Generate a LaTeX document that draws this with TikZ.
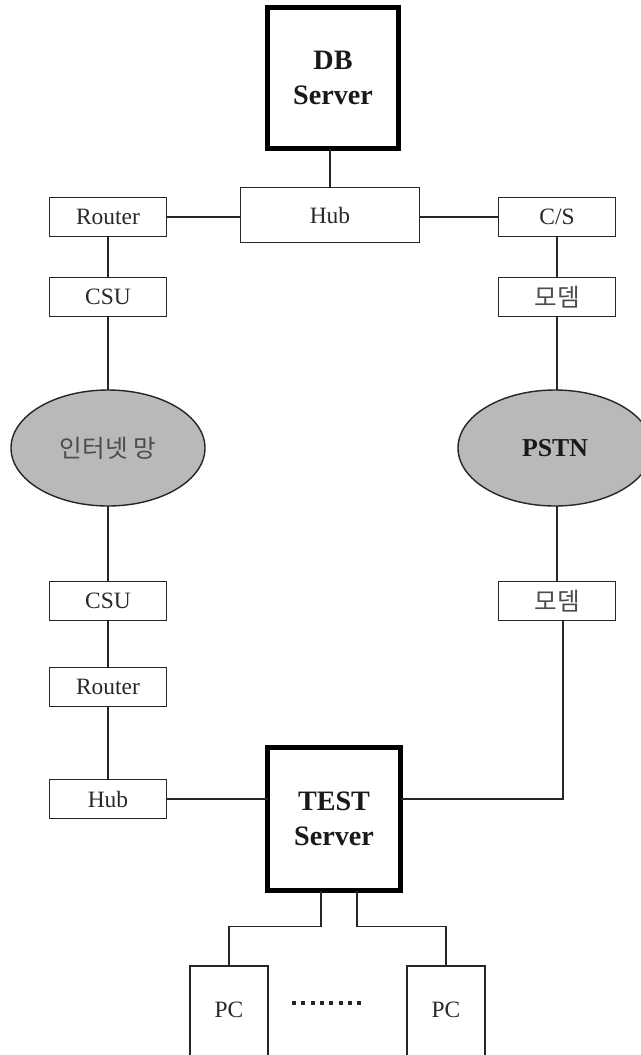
\documentclass[tikz,border=0pt]{standalone}
\usepackage{fontspec}
\setmainfont{Liberation Serif}
\newfontfamily\kr{Noto Sans CJK KR}
\usetikzlibrary{shapes.geometric,calc}
\definecolor{ellgray}{RGB}{185,185,185}
\definecolor{txt}{RGB}{40,40,40}
\begin{document}
\begin{tikzpicture}[x=0.03cm,y=-0.03cm,
  box/.style={draw=black!85, line width=1.2pt, fill=white, inner sep=0pt, outer sep=0pt,
    font=\fontsize{20}{22}\selectfont, text=txt},
  small/.style={box, minimum width=117*0.03cm, minimum height=39*0.03cm},
  server/.style={draw=black, line width=3.6pt, fill=white, inner sep=0pt, outer sep=0pt,
    minimum width=131*0.03cm, minimum height=141*0.03cm, align=center,
    font=\fontsize{24}{30}\selectfont\bfseries, text=black!90},
  cloud/.style={ellipse, draw=black!85, line width=1.2pt, fill=ellgray, inner sep=0pt, outer sep=0pt,
    minimum width=194*0.03cm, minimum height=116*0.03cm},
  pcbox/.style={box, minimum width=78*0.03cm, minimum height=100*0.03cm},
  krtext/.style={font=\kr\fontsize{21}{23}\selectfont, text=black!70},
  wire/.style={draw=black!85, line width=1.2pt}
]
\useasboundingbox (0,0) rectangle (641,1055);
\clip (0,0) rectangle (641,1055);
% top
\node[server] (db) at (333,78) {DB\\Server};
\node[box, minimum width=179*0.03cm, minimum height=55*0.03cm] (hub1) at (330,215) {Hub};
\node[small] (r1) at (108,217) {Router};
\node[small] (cs) at (557,217) {C/S};
\node[small] (csu1) at (108,297) {CSU};
\node[small, krtext] (m1) at (557,297) {모뎀};
% clouds
\node[cloud, krtext] (e1) at (108,448) {인터넷 망};
\node[cloud, font=\fontsize{22}{24}\selectfont\bfseries, text=black!90] (e2) at (555,448) {PSTN};
% lower
\node[small] (csu2) at (108,601) {CSU};
\node[small, krtext] (m2) at (557,601) {모뎀};
\node[small] (r2) at (108,687) {Router};
\node[small] (hub2) at (108,799) {Hub};
\node[server, minimum width=133*0.03cm, minimum height=143*0.03cm] (test) at (334,819) {TEST\\Server};
\node[pcbox, anchor=north] (pc1) at (229,966) {\raisebox{-1pt}[0pt][0pt]{PC}};
\node[pcbox, anchor=north] (pc2) at (446,966) {\raisebox{-1pt}[0pt][0pt]{PC}};
% dots
\draw[line width=4*0.03cm, black!85, dash pattern=on 4*0.03cm off 5.3*0.03cm] (292,1003) -- (364,1003);
% connectors
\draw[wire] (db.south -| hub1.north) -- (hub1.north);
\draw[wire] (r1.east) -- (r1.east -| hub1.west);
\draw[wire] (hub1.east |- cs.west) -- (cs.west);
\draw[wire] (r1) -- (csu1);
\draw[wire] (csu1) -- (e1);
\draw[wire] (e1) -- (csu2);
\draw[wire] (csu2) -- (r2);
\draw[wire] (r2) -- (hub2);
\draw[wire] (cs) -- (m1);
\draw[wire] (m1.south) -- (m1.south |- e2.north);
\draw[wire] (e2.south -| m2.north) -- (m2.north);
\draw[wire] (hub2.east) -- (hub2.east -| test.west);
\coordinate (mr) at ($(m2.south)+(6,0)$);
\draw[wire] (mr) |- (test.east |- hub2.east);
\coordinate (tl) at ($(test.south)+(-13,0)$);
\coordinate (tr) at ($(test.south)+(23,0)$);
\draw[wire] (tl) -- ++(0,36) -| (pc1.north);
\draw[wire] (tr) -- ++(0,36) -| (pc2.north);
\end{tikzpicture}
\end{document}
